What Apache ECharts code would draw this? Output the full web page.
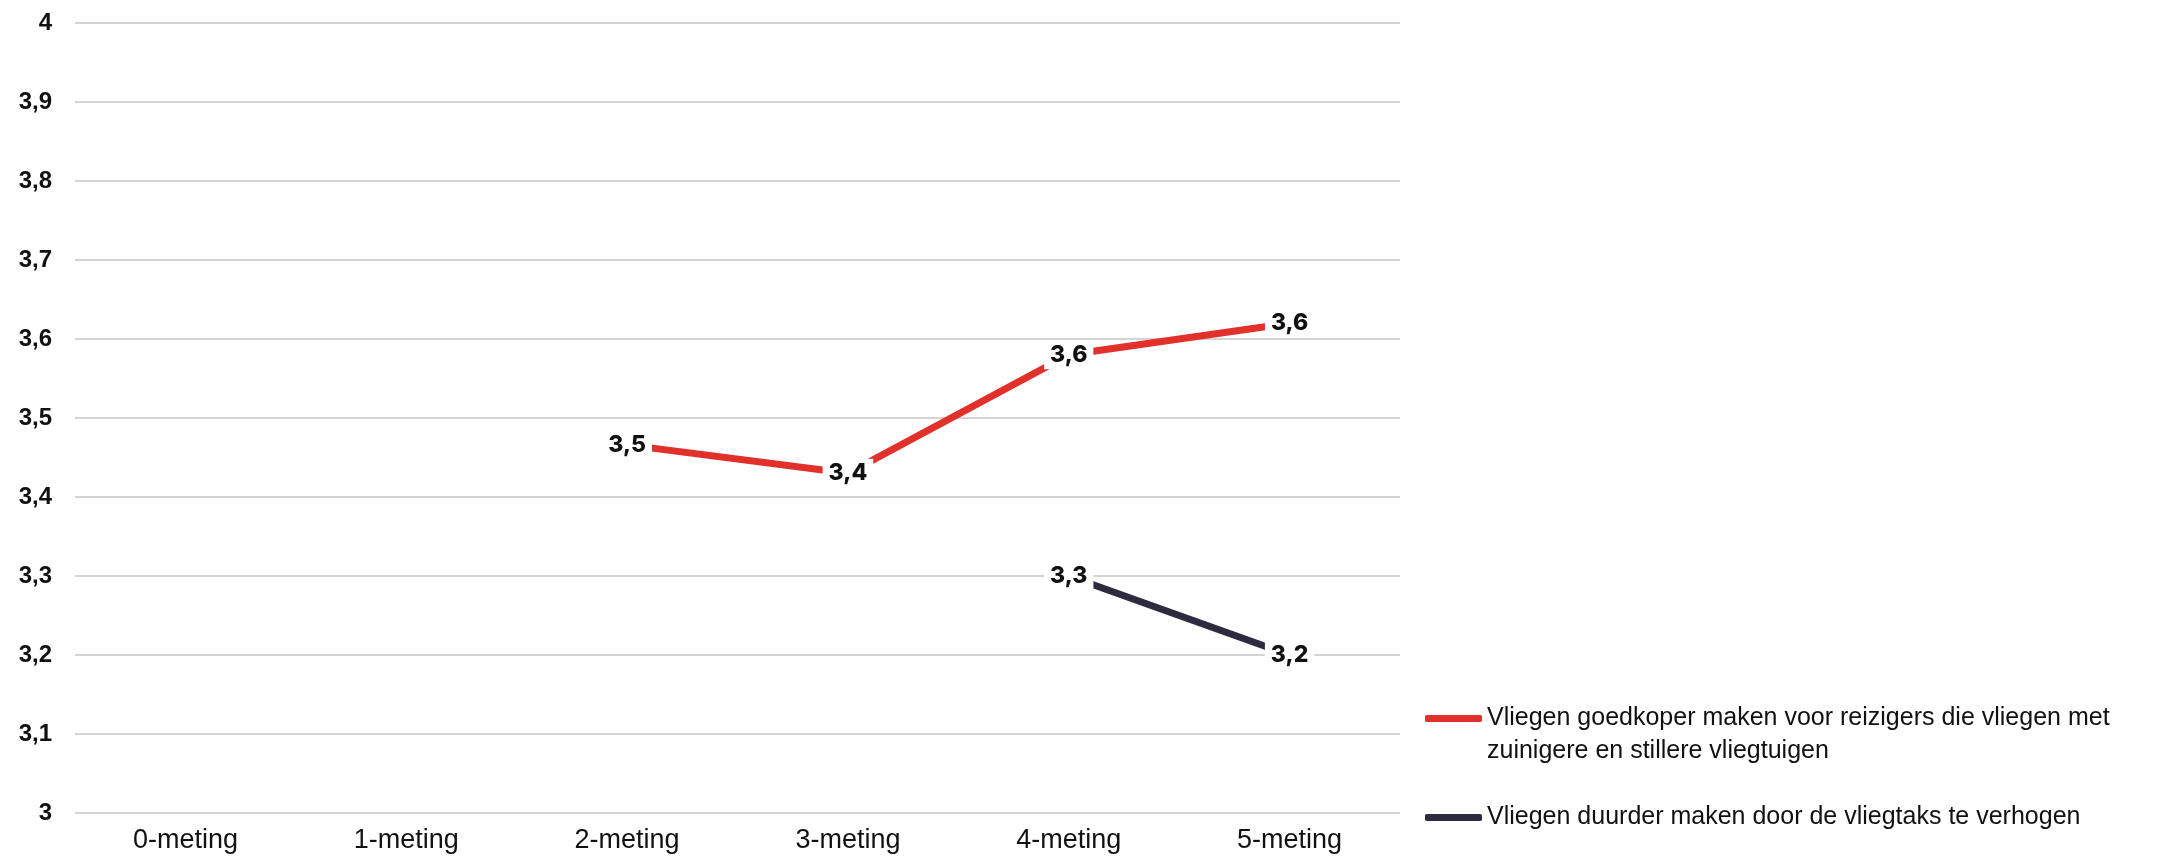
<!DOCTYPE html>
<html>
<head>
<meta charset="utf-8">
<script src="https://cdn.jsdelivr.net/npm/echarts@6/dist/echarts.min.js"></script>
<style>
  html, body { margin: 0; padding: 0; background: #ffffff; }
  #chart { width: 2157px; height: 857px; }
</style>
</head>
<body>
<div id="chart"></div>
<script>
// ---- data ----
const categories = ['0-meting', '1-meting', '2-meting', '3-meting', '4-meting', '5-meting'];
const seriesNames = [
  'Vliegen goedkoper maken voor reizigers die vliegen met zuinigere en stillere vliegtuigen',
  'Vliegen duurder maken door de vliegtaks te verhogen'
];
const goedkoperValues = [null, null, 3.466, 3.43, 3.58, 3.62];
const duurderValues   = [null, null, null, null, 3.30, 3.20];
const yMin = 3, yMax = 4, yInterval = 0.1;

const comma = v => (Math.round(v * 10) / 10).toString().replace('.', ',');

const chart = echarts.init(document.getElementById('chart'), null, { renderer: 'canvas' });

const dataLabel = {
  show: true,
  position: 'inside',
  formatter: p => comma(p.value),
  fontFamily: 'Inter',
  fontWeight: 800,
  fontSize: 23,
  color: '#111111',
  backgroundColor: '#ffffff',
  padding: [3, 6]
};

const legendText = {
  fontFamily: 'Liberation Sans',
  fontSize: 25,
  lineHeight: 33,
  color: '#111111'
};

chart.setOption({
  backgroundColor: '#ffffff',
  animation: false,
  grid: { left: 75, right: 757, top: 23, bottom: 44, containLabel: false },
  xAxis: {
    type: 'category',
    data: categories,
    boundaryGap: true,
    axisLine: { show: false },
    axisTick: { show: false },
    axisLabel: {
      margin: 14,
      fontFamily: 'Liberation Sans',
      fontSize: 27,
      color: '#111111'
    }
  },
  yAxis: {
    type: 'value',
    min: yMin,
    max: yMax,
    interval: yInterval,
    axisLine: { show: false },
    axisTick: { show: false },
    splitLine: { lineStyle: { color: '#d4d4d4', width: 2 } },
    axisLabel: {
      margin: 23,
      fontFamily: 'Liberation Sans',
      fontWeight: 'bold',
      fontSize: 24,
      color: '#111111',
      formatter: v => comma(v)
    }
  },
  legend: [
    {
      left: 1425,
      top: 669,
      padding: 0,
      itemWidth: 57,
      itemHeight: 7,
      icon: 'roundRect',
      data: [seriesNames[0]],
      // empty first line so that the first text line sits level with the icon
      formatter: name => '\n' + name.replace(' zuinigere', '\nzuinigere'),
      textStyle: legendText
    },
    {
      left: 1425,
      top: 801,
      padding: 0,
      itemWidth: 57,
      itemHeight: 7,
      icon: 'roundRect',
      data: [seriesNames[1]],
      textStyle: legendText
    }
  ],
  series: [
    {
      name: seriesNames[0],
      type: 'line',
      data: goedkoperValues,
      symbol: 'circle',
      symbolSize: 1,
      lineStyle: { color: '#e2302b', width: 7 },
      itemStyle: { color: '#e2302b' },
      label: dataLabel
    },
    {
      name: seriesNames[1],
      type: 'line',
      data: duurderValues,
      symbol: 'circle',
      symbolSize: 1,
      lineStyle: { color: '#2e2a3f', width: 7 },
      itemStyle: { color: '#2e2a3f' },
      label: dataLabel
    }
  ]
});
</script>
</body>
</html>
